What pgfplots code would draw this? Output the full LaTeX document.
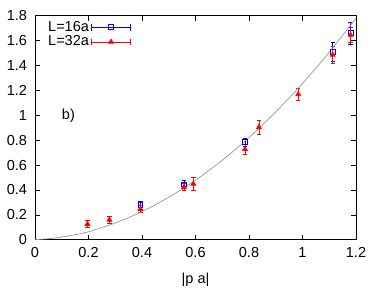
\documentclass[border=0pt]{standalone}
\usepackage{pgfplots}
\pgfplotsset{compat=1.18}
\usepackage{fontspec}
\setmainfont{Liberation Sans}
\definecolor{gpblue}{RGB}{0,0,255}
\definecolor{gpred}{RGB}{255,0,0}
\definecolor{gpgray}{RGB}{150,150,150}
\newcommand{\gpf}{\fontsize{14.5bp}{17bp}\selectfont}
\begin{document}
\gpf
\begin{tikzpicture}
\begin{axis}[
  name=ax,
  scale only axis,
  width=321bp, height=224bp,
  xmin=0, xmax=1.2, ymin=0, ymax=1.8,
  xtick={0,0.2,...,1.2}, ytick={0,0.2,...,1.8},
  xticklabels={0,0.2,0.4,0.6,0.8,1,1.2},
  yticklabels={0,0.2,0.4,0.6,0.8,1,1.2,1.4,1.6,1.8},
  tick align=inside,
  major tick length=5bp,
  tick style={black, line width=0.6pt},
  axis line style={line width=0.8pt},
  /pgf/number format/assume math mode=true,
  ticklabel style={font=\gpf},
  xticklabel style={yshift=-3bp},
  yticklabel style={xshift=-3bp},
  xlabel={|p a|},
  xlabel style={font=\gpf, yshift=-5bp},
  legend style={draw=none, fill=none, at={(0.025,0.995)}, anchor=north west,
    legend cell align=right, font=\gpf,
    row sep=-1.5bp},
  legend plot pos=right,
  legend image code/.code={
    \draw[|-|, line width=0.7pt] (0cm,0cm) -- (1.4cm,0cm);
    \draw[only marks] plot coordinates {(0.7cm,0cm)};
  },
  clip=false,
]
\addplot[gpblue, only marks, mark=square, mark size=2.4pt, line width=0.8pt,
  error bars/.cd, y dir=both, y explicit,
  error bar style={line width=0.8pt}, error mark options={rotate=90, mark size=2.2pt, line width=0.8pt}]
  table[x=x, y=y, y error=e] {
  x y e
  0.394 0.279 0.032
  0.557 0.445 0.030
  0.785 0.783 0.032
  1.113 1.509 0.075
  1.180 1.659 0.090
};
\addlegendentry{L=16a}
\addplot[gpred, only marks, mark=triangle*, mark size=2.7pt, line width=0.8pt,
  error bars/.cd, y dir=both, y explicit,
  error bar style={line width=0.8pt}, error mark options={rotate=90, mark size=2.2pt, line width=0.8pt}]
  table[x=x, y=y, y error=e] {
  x y e
  0.196 0.126 0.030
  0.278 0.160 0.030
  0.394 0.246 0.030
  0.557 0.423 0.030
  0.592 0.448 0.055
  0.785 0.727 0.040
  0.837 0.905 0.056
  0.984 1.168 0.048
  1.113 1.485 0.070
  1.180 1.645 0.060
};
\addlegendentry{L=32a}
\addplot[gpgray, line width=0.7pt, no marks, smooth] table {
  0.00 0.000
  0.05 0.008
  0.10 0.021
  0.15 0.040
  0.20 0.064
  0.30 0.134
  0.40 0.226
  0.50 0.341
  0.60 0.478
  0.70 0.638
  0.80 0.821
  0.90 1.027
  1.00 1.256
  1.10 1.507
  1.20 1.780
};
\node[font=\gpf] at (axis cs:0.125,1.0) {b)};
\end{axis}
\path ([xshift=-35bp,yshift=-48.3bp]ax.south west) rectangle ([xshift=18bp,yshift=15.7bp]ax.north east);
\end{tikzpicture}
\end{document}
